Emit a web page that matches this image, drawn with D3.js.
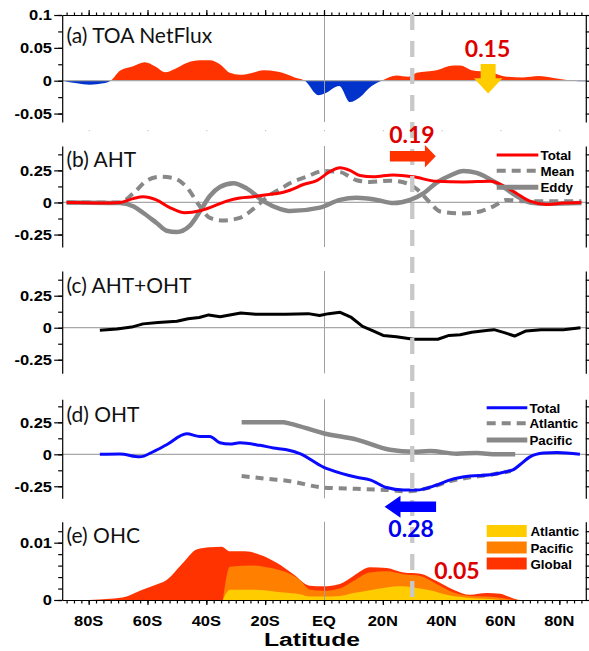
<!DOCTYPE html>
<html>
<head>
<meta charset="utf-8">
<script src="https://cdn.jsdelivr.net/npm/d3@7"></script>
<style>
  body { margin: 0; background: #fff; }
  svg { display: block; }
</style>
</head>
<body>
<svg id="chart" width="589" height="651"></svg>
<script>
// ---------- latitude axis ----------
const latMajor = [-80, -60, -40, -20, 0, 20, 40, 60, 80];
const latLabels = ["80S", "60S", "40S", "20S", "EQ", "20N", "40N", "60N", "80N"];

// ---------- (a) TOA net flux ----------
const toaLat = [-89, -84, -79.6, -75, -72.5, -69.4, -64.9, -60.9, -57.5, -54, -50.7, -46.7, -42.2, -38.8, -35.4, -32, -28.6, -25.2, -20.6, -16.1, -12.7, -10, -6.5, -1.9, 0, 5.2, 8.8, 12.2, 16.2, 19.6, 24.7, 28.7, 31.5, 38.3, 44, 46.3, 50.2, 56.5, 62.1, 67.8, 72.9, 78, 82.5, 84.5, 88.8];
const toaVal = [0, -0.004, -0.006, -0.004, 0, 0.015, 0.022, 0.028, 0.022, 0.013, 0.018, 0.027, 0.031, 0.031, 0.025, 0.012, 0.009, 0.011, 0.016, 0.014, 0.010, 0.005, 0, -0.022, -0.020, -0.008, -0.0325, -0.025, -0.008, 0, 0.008, 0.006, 0.012, 0.016, 0.023, 0.023, 0.016, 0.013, 0.006, 0.005, 0.007, 0.004, 0.001, 0, -0.001];

// ---------- (b) atmospheric heat transport ----------
const ahtTotalLat = [-87.5, -80, -76, -69.4, -64.9, -61.5, -57, -52.4, -47.3, -42.2, -37.7, -33.1, -28.6, -24, -19.5, -13.8, -11.6, -7, -2.5, 2, 5.4, 8.8, 12.2, 16.8, 23.6, 30.4, 38.3, 47.4, 56.5, 61, 65.5, 70, 75.7, 81.4, 87.5];
const ahtTotalVal = [0, -0.003, -0.005, 0, 0.03, 0.045, 0.02, -0.04, -0.08, -0.065, -0.03, 0.01, 0.035, 0.045, 0.06, 0.08, 0.095, 0.14, 0.17, 0.24, 0.27, 0.25, 0.21, 0.20, 0.215, 0.20, 0.165, 0.16, 0.165, 0.13, 0.07, 0.01, -0.015, -0.005, 0];
const ahtMeanLat = [-87.5, -69.4, -64.9, -60.3, -55.8, -51.2, -46.7, -42.2, -38.8, -34.3, -28.6, -24, -19.5, -13.8, -11.6, -5.9, -0.2, 5.4, 11.1, 15.6, 22.4, 28.1, 31.5, 36, 39.5, 47.4, 53.1, 57.6, 62.1, 67.8, 74.6, 87.5];
const ahtMeanVal = [0, 0, 0.07, 0.17, 0.20, 0.19, 0.12, -0.03, -0.12, -0.14, -0.12, -0.05, 0.04, 0.12, 0.15, 0.20, 0.245, 0.237, 0.173, 0.16, 0.17, 0.15, 0.105, 0, -0.07, -0.085, -0.07, -0.03, 0.02, 0.01, 0.01, 0.01];
const ahtEddyLat = [-87.5, -69.4, -64.9, -61.5, -56.9, -53.5, -50.1, -45.6, -42.2, -38.8, -35.4, -30.8, -26.3, -20.6, -15, -11.6, -1.4, 5.4, 11.1, 17.9, 23.6, 29.3, 33.8, 38.3, 42.9, 47.4, 51.9, 56.5, 61, 65.5, 70, 75.7, 87.5];
const ahtEddyVal = [0, -0.005, -0.03, -0.08, -0.16, -0.22, -0.23, -0.18, -0.07, 0.05, 0.12, 0.15, 0.11, 0.01, -0.05, -0.067, -0.04, 0.02, 0.036, 0.02, -0.005, 0.02, 0.07, 0.155, 0.21, 0.245, 0.23, 0.18, 0.12, 0.05, 0, -0.01, -0.005];

// ---------- (c) AHT + OHT ----------
const totalLat = [-76.2, -70.4, -65.4, -61.5, -56.4, -50, -46.2, -42.4, -39.2, -35.3, -28.3, -23.2, -13, -5.4, -1.5, 1.6, 5.5, 9.3, 13.1, 16.3, 20.1, 24.6, 30.4, 34.2, 38.7, 42.5, 46.3, 50.2, 55.9, 57.8, 61.6, 64.8, 68.7, 73.8, 81.4, 87.2];
const totalVal = [-0.02, -0.01, 0.005, 0.03, 0.04, 0.05, 0.07, 0.08, 0.10, 0.085, 0.115, 0.105, 0.105, 0.11, 0.095, 0.11, 0.12, 0.08, 0.01, -0.02, -0.06, -0.07, -0.09, -0.09, -0.09, -0.06, -0.055, -0.035, -0.02, -0.015, -0.04, -0.065, -0.025, -0.015, -0.015, 0];

// ---------- (d) ocean heat transport ----------
const ohtTotalLat = [-76.2, -69.4, -62.6, -58.1, -53.5, -46.7, -42.2, -38.8, -35.4, -32, -28.6, -21.8, -17.2, -12.7, -8.2, -0.2, 2, 11.1, 15.6, 21.3, 27, 31.5, 38.3, 42.9, 49.7, 56.5, 61, 64.4, 66.7, 70, 74.6, 79.2, 87];
const ohtTotalVal = [0, 0.002, -0.02, 0.02, 0.075, 0.16, 0.14, 0.14, 0.09, 0.08, 0.09, 0.07, 0.05, 0.035, 0.005, -0.10, -0.12, -0.18, -0.20, -0.26, -0.28, -0.28, -0.24, -0.20, -0.17, -0.16, -0.14, -0.12, -0.08, -0.02, 0.01, 0.015, 0];
const ohtAtlLat = [-28, -20, -11.6, -0.2, 11.1, 22.4, 28.1, 36, 42.9, 49.7, 56.5, 63.5];
const ohtAtlVal = [-0.17, -0.19, -0.21, -0.26, -0.27, -0.28, -0.29, -0.26, -0.21, -0.18, -0.16, -0.13];
const ohtPacLat = [-28, -13.8, -11.6, -0.2, 11.1, 22.4, 30.4, 36, 45.1, 51.9, 58.7, 65];
const ohtPacVal = [0.25, 0.25, 0.24, 0.165, 0.115, 0.035, 0.02, 0.025, 0.005, 0.01, 0, 0];

// ---------- (e) ocean heat content ----------
const ohcGlobalLat = [-89, -80, -72.8, -67.1, -62.6, -58.1, -53.5, -47.9, -43.3, -38.8, -34.8, -32, -26.9, -21.8, -16.1, -10.4, -4.8, -0.2, 5.4, 10, 15.6, 21.3, 27, 32.7, 38.3, 44, 49.7, 55.3, 59.9, 63.3, 66.7, 89];
const ohcGlobalVal = [0, 0, 0.0002, 0.0006, 0.0016, 0.0025, 0.0035, 0.0065, 0.0088, 0.0092, 0.0093, 0.0085, 0.0085, 0.0079, 0.0065, 0.0045, 0.0025, 0.0024, 0.0028, 0.0042, 0.0057, 0.0056, 0.0048, 0.0046, 0.0033, 0.0018, 0.0009, 0.0012, 0.0011, 0.0005, 0, 0];
const ohcPacLat = [-34.3, -32, -24, -19.5, -13.8, -8.2, -4.8, -0.2, 5.4, 10, 15.6, 21.3, 27, 32.7, 38.3, 44, 49.7, 55.3, 59.9, 63.3, 66];
const ohcPacVal = [0, 0.0058, 0.0060, 0.0057, 0.0050, 0.0035, 0.0018, 0.0016, 0.0020, 0.0033, 0.0048, 0.0050, 0.0045, 0.0042, 0.0028, 0.0013, 0.0007, 0.0006, 0.0004, 0.0001, 0];
const ohcAtlLat = [-34.4, -32, -24, -13.8, -8.2, -4.8, -0.2, 5.4, 10, 15.6, 21.3, 25.9, 30.4, 36, 41.7, 48.5, 55.3, 60];
const ohcAtlVal = [0, 0.0018, 0.0018, 0.0013, 0.0010, 0.0006, 0.0006, 0.0007, 0.0012, 0.0017, 0.0022, 0.0024, 0.0022, 0.0017, 0.0009, 0.0004, 0.0002, 0];

// ---------- y tick labels ----------
const ticksA = [-0.05, 0, 0.05, 0.1];
const tickLabelsA = ["-0.05", "0", "0.05", "0.1"];
const ticksHT = [-0.25, 0, 0.25];
const tickLabelsHT = ["-0.25", "0", "0.25"];
const ticksE = [0, 0.01];
const tickLabelsE = ["0", "0.01"];

// ---------- annotated transport values ----------
const toaArrowValue = "0.15";
const ahtArrowValue = "0.19";
const ohtArrowValue = "0.28";
const ohcValue = "0.05";

// ---------- layout ----------
const X0 = 62.2, X1 = 585.8;
const x = d3.scaleLinear().domain([-89, 89]).range([X0, X1]);
const ya = d3.scaleLinear().domain([-0.063, 0.1]).range([122.1, 15]);
const yb = d3.scaleLinear().domain([-0.347, 0.44]).range([247, 146]);
const yc = d3.scaleLinear().domain([-0.356, 0.443]).range([373.3, 271]);
const yd = d3.scaleLinear().domain([-0.344, 0.43]).range([498.3, 399.3]);
const ye = d3.scaleLinear().domain([0, 0.01366]).range([600, 521.7]);

const AXIS_FONT = "'Liberation Sans', Arial, Helvetica, sans-serif";
const TITLE_FONT = "Lato, 'Open Sans', sans-serif";
const GRAY = "#888888";

const svg = d3.select("#chart");
const defs = svg.append("defs");

function stretchedText(parent, str, px, py, o) {
  return parent.append("text")
    .attr("transform", `translate(${px},${py}) scale(${o.sx || 1},1)`)
    .attr("text-anchor", o.anchor || "start")
    .attr("font-family", o.family || AXIS_FONT)
    .attr("font-weight", o.weight || "bold")
    .attr("font-size", o.size)
    .attr("fill", o.fill || "#000")
    .text(str);
}

function styleAxis(sel) {
  sel.attr("color", "#000");
  sel.selectAll("path, line").attr("stroke-width", 1.2);
  sel.selectAll("text").remove();
}

function stepValues(y, step) {
  const [d0, d1] = y.domain();
  const out = [];
  for (let k = Math.ceil(d0 / step - 1e-6); k <= Math.floor(d1 / step + 1e-6); k++) {
    out.push(+(k * step).toFixed(6));
  }
  return out;
}

function yAxes(g, y, ticks, labels, step) {
  const minors = stepValues(y, step);
  const left = g.append("g").attr("transform", `translate(${X0},0)`);
  left.call(d3.axisLeft(y).tickValues(ticks).tickSize(8).tickSizeOuter(0)).call(styleAxis);
  const leftMinor = g.append("g").attr("transform", `translate(${X0},0)`);
  leftMinor.call(d3.axisLeft(y).tickValues(minors).tickSize(4).tickSizeOuter(0)).call(styleAxis);
  leftMinor.select(".domain").remove();
  const right = g.append("g").attr("transform", `translate(${X1},0)`);
  right.call(d3.axisRight(y).tickValues(minors).tickSize(4).tickSizeOuter(0)).call(styleAxis);
  ticks.forEach((v, i) => stretchedText(g, labels[i], 52, y(v) + 5.3, { size: 15, sx: 1.1, anchor: "end" }));
}

function refLines(g, y, withZero) {
  const [r0, r1] = y.range();
  g.append("line").attr("x1", x(0) + 0.5).attr("x2", x(0) + 0.5).attr("y1", r1).attr("y2", r0)
    .attr("stroke", "#a0a0a0").attr("stroke-width", 1);
  if (withZero) {
    g.append("line").attr("x1", X0).attr("x2", X1).attr("y1", y(0)).attr("y2", y(0))
      .attr("stroke", "#a8a8a8").attr("stroke-width", 1.2);
  }
}

function title(g, str, baseline) {
  stretchedText(g, str, 66.5, baseline, { size: 21, family: TITLE_FONT, weight: "normal", fill: "#111" });
}

function seriesLine(g, y, lats, vals, o) {
  const line = d3.line()
    .x(i => x(lats[i])).y(i => y(vals[i]))
    .curve(o.curve || d3.curveMonotoneX);
  g.append("path").datum(d3.range(lats.length)).attr("d", line)
    .attr("fill", "none").attr("stroke", o.color).attr("stroke-width", o.width)
    .attr("stroke-dasharray", o.dash || null)
    .attr("stroke-linejoin", "round");
}

function legendLines(g, items, lx0, lx1, tx) {
  items.forEach(it => {
    g.append("line").attr("x1", lx0).attr("x2", lx1).attr("y1", it.y).attr("y2", it.y)
      .attr("stroke", it.color).attr("stroke-width", it.width).attr("stroke-dasharray", it.dash || null);
    stretchedText(g, it.name, tx, it.y + 4.8, { size: 13.3 });
  });
}

// ================= (a) TOA NetFlux =================
const ga = svg.append("g");
{
  const y0 = ya(0);
  defs.append("clipPath").attr("id", "clip-pos").append("rect")
    .attr("x", X0).attr("y", 0).attr("width", X1 - X0).attr("height", y0);
  defs.append("clipPath").attr("id", "clip-neg").append("rect")
    .attr("x", X0).attr("y", y0).attr("width", X1 - X0).attr("height", 100);
  const area = d3.area().x(i => x(toaLat[i])).y0(y0).y1(i => ya(toaVal[i])).curve(d3.curveMonotoneX);
  const idx = d3.range(toaLat.length);
  ga.append("path").datum(idx).attr("d", area).attr("fill", "#ff3300").attr("clip-path", "url(#clip-pos)");
  ga.append("path").datum(idx).attr("d", area).attr("fill", "#0033cc").attr("clip-path", "url(#clip-neg)");
  refLines(ga, ya, true);
  yAxes(ga, ya, ticksA, tickLabelsA, 0.025);
  const top = ga.append("g").attr("transform", `translate(0,${ya.range()[1]})`);
  top.call(d3.axisTop(x).tickValues(latMajor).tickSize(5).tickSizeOuter(0)).call(styleAxis);
  const minorLat = d3.range(-87.5, 88, 2.5);
  const topMinor = ga.append("g").attr("transform", `translate(0,${ya.range()[1]})`);
  topMinor.call(d3.axisTop(x).tickValues(minorLat).tickSize(2.5).tickSizeOuter(0)).call(styleAxis);
  topMinor.select(".domain").remove();
  // faint tick marks below panel (a)
  latMajor.forEach(l => ga.append("rect").attr("x", x(l)).attr("y", 130).attr("width", 1).attr("height", 1.2).attr("fill", "#bbb"));
  title(ga, "(a) TOA NetFlux", 42.7);
}

// ================= (b) AHT =================
const gb = svg.append("g");
{
  refLines(gb, yb, true);
  seriesLine(gb, yb, ahtMeanLat, ahtMeanVal, { color: GRAY, width: 4, dash: "9,6" });
  seriesLine(gb, yb, ahtEddyLat, ahtEddyVal, { color: GRAY, width: 4.5 });
  seriesLine(gb, yb, ahtTotalLat, ahtTotalVal, { color: "#ff0000", width: 3 });
  yAxes(gb, yb, ticksHT, tickLabelsHT, 0.125);
  title(gb, "(b) AHT", 166.7);
  legendLines(gb, [
    { name: "Total", y: 155, color: "#ff0000", width: 3 },
    { name: "Mean", y: 170.7, color: GRAY, width: 4, dash: "9,6" },
    { name: "Eddy", y: 187.3, color: GRAY, width: 5 }
  ], 496.7, 538.3, 540.5);
}

// ================= (c) AHT+OHT =================
const gc = svg.append("g");
{
  refLines(gc, yc, true);
  seriesLine(gc, yc, totalLat, totalVal, { color: "#000", width: 3, curve: d3.curveLinear });
  yAxes(gc, yc, ticksHT, tickLabelsHT, 0.125);
  title(gc, "(c) AHT+OHT", 293.3);
}

// ================= (d) OHT =================
const gd = svg.append("g");
{
  refLines(gd, yd, true);
  seriesLine(gd, yd, ohtAtlLat, ohtAtlVal, { color: GRAY, width: 4, dash: "8,6" });
  seriesLine(gd, yd, ohtPacLat, ohtPacVal, { color: GRAY, width: 4.5 });
  seriesLine(gd, yd, ohtTotalLat, ohtTotalVal, { color: "#0a0aff", width: 3 });
  yAxes(gd, yd, ticksHT, tickLabelsHT, 0.125);
  title(gd, "(d) OHT", 421.7);
  legendLines(gd, [
    { name: "Total", y: 407.7, color: "#0a0aff", width: 3 },
    { name: "Atlantic", y: 423.3, color: GRAY, width: 4, dash: "9,6" },
    { name: "Pacific", y: 440, color: GRAY, width: 5 }
  ], 486.7, 527.3, 529.5);
}

// ================= (e) OHC =================
const ge = svg.append("g");
{
  const mkArea = (lats, vals) => d3.area()
    .x(i => x(lats[i])).y0(ye(0)).y1(i => ye(vals[i])).curve(d3.curveMonotoneX)(d3.range(lats.length));
  ge.append("path").attr("d", mkArea(ohcGlobalLat, ohcGlobalVal)).attr("fill", "#ff3300");
  ge.append("path").attr("d", mkArea(ohcPacLat, ohcPacVal)).attr("fill", "#ff8000");
  ge.append("path").attr("d", mkArea(ohcAtlLat, ohcAtlVal)).attr("fill", "#ffcc00");
  refLines(ge, ye, false);
  yAxes(ge, ye, ticksE, tickLabelsE, 0.002);
  const bottom = ge.append("g").attr("transform", `translate(0,${ye(0)})`);
  bottom.call(d3.axisBottom(x).tickValues(latMajor).tickSize(5).tickSizeOuter(0)).call(styleAxis);
  const bottomMinor = ge.append("g").attr("transform", `translate(0,${ye(0)})`);
  bottomMinor.call(d3.axisBottom(x).tickValues(d3.range(-87.5, 88, 2.5)).tickSize(3.5).tickSizeOuter(0)).call(styleAxis);
  bottomMinor.select(".domain").remove();
  latMajor.forEach((l, i) => stretchedText(ge, latLabels[i], x(l), 625.5, { size: 15, sx: 1.1, anchor: "middle" }));
  stretchedText(ge, "Latitude", 312, 646.3, { size: 19, sx: 1.3, anchor: "middle" });
  title(ge, "(e) OHC", 543.3);
  [
    { name: "Atlantic", y: 525, color: "#ffcc00" },
    { name: "Pacific", y: 541.5, color: "#ff8000" },
    { name: "Global", y: 557.5, color: "#ff3300" }
  ].forEach(it => {
    ge.append("rect").attr("x", 486.7).attr("y", it.y).attr("width", 40).attr("height", 12).attr("fill", it.color);
    stretchedText(ge, it.name, 530.5, it.y + 11, { size: 13.3 });
  });
}

// ================= 30N reference line =================
svg.append("line")
  .attr("x1", x(30)).attr("x2", x(30)).attr("y1", 14).attr("y2", 600)
  .attr("stroke", "#c8c8c8").attr("stroke-width", 4.3).attr("stroke-dasharray", "16,11");

// ================= transport arrows and values =================
const ann = svg.append("g");
function poly(points, fill) {
  ann.append("polygon").attr("points", points.map(p => p.join(",")).join(" ")).attr("fill", fill);
}
{
  // downward yellow arrow (TOA)
  const cx = x(55.8), t = ya(0.0254), n = ya(0.0037), tip = ya(-0.0195);
  poly([[cx - 7.5, t], [cx + 7.5, t], [cx + 7.5, n], [cx + 14.2, n], [cx, tip], [cx - 14.2, n], [cx - 7.5, n]], "#ffcc00");
  stretchedText(ann, toaArrowValue, x(55.6), 57.3, { size: 23, family: TITLE_FONT, anchor: "middle", fill: "#dd0000" });
}
{
  // northward arrow (AHT)
  const x0 = x(22.4), xn = x(34.3), xt = x(38), cy = yb(0.36);
  poly([[x0, cy - 5.3], [xn, cy - 5.3], [xn, cy - 11.2], [xt, cy], [xn, cy + 11.2], [xn, cy + 5.3], [x0, cy + 5.3]], "#ff3300");
  stretchedText(ann, ahtArrowValue, x(29.9), 143.3, { size: 23, family: TITLE_FONT, anchor: "middle", fill: "#dd0000" });
}
{
  // southward arrow (OHT)
  const xt = x(20.6), xn = x(26), x1 = x(38.1), cy = yd(-0.41);
  poly([[xt, cy], [xn, cy - 11], [xn, cy - 5.2], [x1, cy - 5.2], [x1, cy + 5.2], [xn, cy + 5.2], [xn, cy + 11]], "#0000ff");
  stretchedText(ann, ohtArrowValue, x(29.6), 536.7, { size: 23, family: TITLE_FONT, anchor: "middle", fill: "#0000ee" });
}
stretchedText(ann, ohcValue, x(45.2), 579.3, { size: 23, family: TITLE_FONT, anchor: "middle", fill: "#dd0000" });
</script>
</body>
</html>
